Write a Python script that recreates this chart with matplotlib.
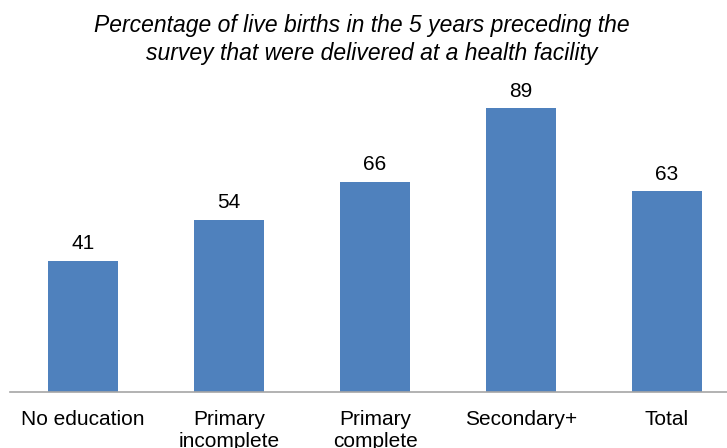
import matplotlib
matplotlib.use("Agg")
import matplotlib.pyplot as plt

categories = ["No education", "Primary\nincomplete", "Primary\ncomplete", "Secondary+", "Total"]
values = [41, 54, 66, 89, 63]
title_lines = ["Percentage of live births in the 5 years preceding the",
               "survey that were delivered at a health facility"]

plt.rcParams["font.family"] = ["Liberation Sans", "DejaVu Sans"]

W, H = 727, 448
fig = plt.figure(figsize=(W / 100, H / 100), dpi=100)

# axes: left edge at x=10 px, 146 px per category, baseline at y=391.5 px
left_px, step_px, base_px, unit_px = 10, 146, 391.5, 3.18
ymax = 100
ax = fig.add_axes([left_px / W, (H - base_px) / H, 5 * step_px / W, ymax * unit_px / H])

x = range(len(categories))
ax.bar(x, values, width=0.48, color="#4F81BD", zorder=2)
for xi, v in zip(x, values):
    ax.text(xi, v + 2.4, f"{v}", ha="center", va="bottom", fontsize=15, color="#000000")

ax.set_xlim(-0.5, len(categories) - 0.5)
ax.set_ylim(0, ymax)
ax.set_xticks(list(x))
ax.set_xticklabels(categories, fontsize=15, linespacing=1.2)
ax.tick_params(axis="x", length=0, pad=13)
ax.set_yticks([])
for s in ["top", "right", "left"]:
    ax.spines[s].set_visible(False)
ax.spines["bottom"].set_color("#A6A6A6")
ax.spines["bottom"].set_linewidth(1.2)

# two-line italic title, each line placed on its own baseline
for (cx, base_y), line in zip([(362, 32), (372, 60)], title_lines):
    fig.text(cx / W, 1 - base_y / H, line, ha="center", va="baseline",
             fontsize=16.5, style="italic")

fig.savefig("out.png", dpi=100)
